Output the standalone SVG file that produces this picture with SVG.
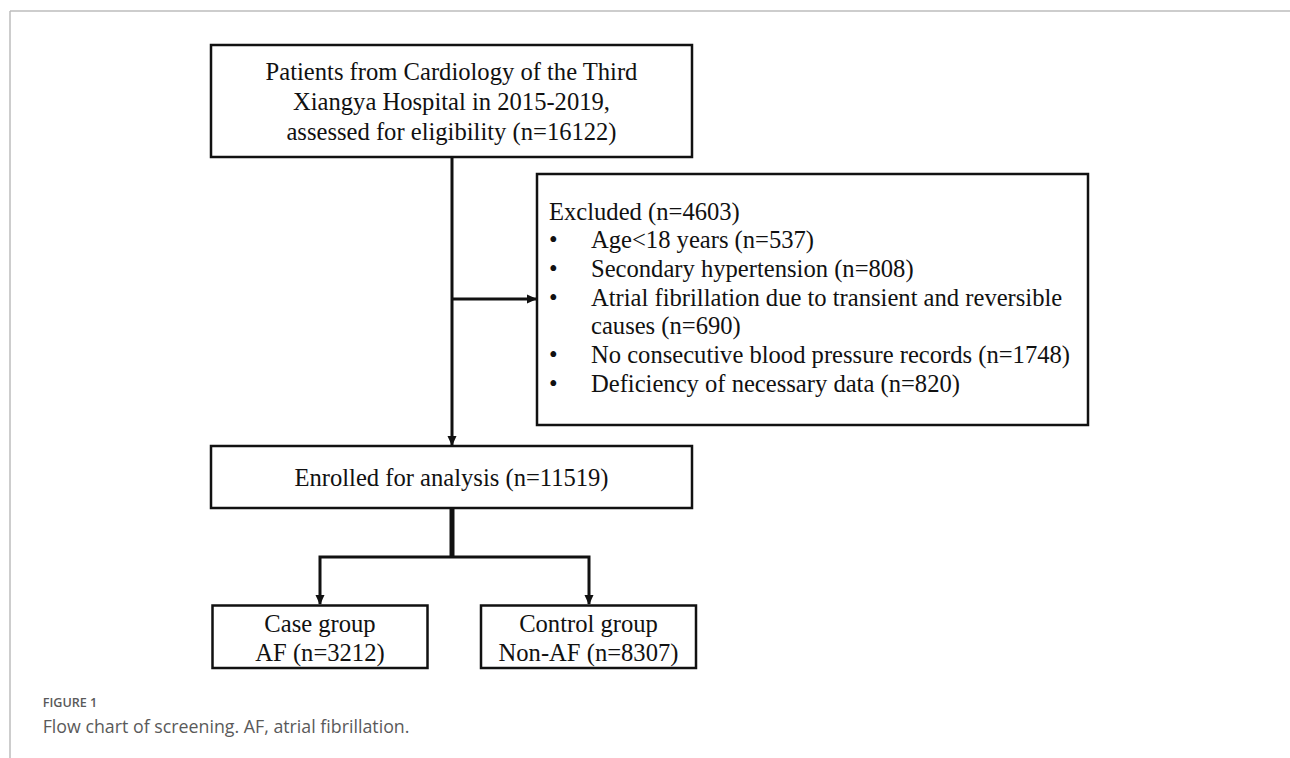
<svg xmlns="http://www.w3.org/2000/svg" width="1290" height="758" viewBox="0 0 1290 758">
  <style>
    .box { fill: #ffffff; stroke: #111111; stroke-width: 2.5; }
    .t { font-family: "Liberation Serif", "Times New Roman", serif; font-size: 24.6px; fill: #111111; }
    .c { text-anchor: middle; }
    .conn { fill: none; stroke: #111111; stroke-width: 3; }
    .thick { stroke-width: 5; }
    .frame { fill: none; stroke: #bdbdbd; stroke-width: 1.5; }
    .cap { font-family: "Open Sans", "Liberation Sans", sans-serif; fill: #5a5a5a; }
  </style>
  <defs>
    <marker id="arr" markerWidth="10" markerHeight="10" refX="9" refY="5" orient="auto" markerUnits="userSpaceOnUse">
      <path d="M0,0.5 L10,5 L0,9.5 Z" fill="#111111"/>
    </marker>
  </defs>
  <rect width="1290" height="758" fill="#ffffff"/>
  <g id="frame">
    <path class="frame" d="M10,11 H1290 M10,11 V758"/>
  </g>
  <g id="connectors">
    <path class="conn" d="M452,157 V445" marker-end="url(#arr)"/>
    <path class="conn" d="M452,299 H536" marker-end="url(#arr)"/>
    <path class="conn thick" d="M452,508 V557"/>
    <path class="conn" d="M452,557 H320 V604" marker-end="url(#arr)"/>
    <path class="conn" d="M452,557 H589 V604" marker-end="url(#arr)"/>
  </g>
  <g id="node-patients">
    <rect class="box" x="211" y="45" width="481" height="112"/>
    <text class="t c" x="451.5" y="80">Patients from Cardiology of the Third</text>
    <text class="t c" x="451.5" y="110">Xiangya Hospital in 2015-2019,</text>
    <text class="t c" x="451.5" y="140">assessed for eligibility (n=16122)</text>
  </g>
  <g id="node-excluded">
    <rect class="box" x="537" y="174" width="551" height="251"/>
    <text class="t" x="549" y="219.5">Excluded (n=4603)</text>
    <text class="t" x="549" y="248.2">•</text>
    <text class="t" x="591" y="248.2">Age&lt;18 years (n=537)</text>
    <text class="t" x="549" y="276.9">•</text>
    <text class="t" x="591" y="276.9">Secondary hypertension (n=808)</text>
    <text class="t" x="549" y="305.6">•</text>
    <text class="t" x="591" y="305.6">Atrial fibrillation due to transient and reversible</text>
    <text class="t" x="591" y="334.3">causes (n=690)</text>
    <text class="t" x="549" y="363">•</text>
    <text class="t" x="591" y="363">No consecutive blood pressure records (n=1748)</text>
    <text class="t" x="549" y="391.7">•</text>
    <text class="t" x="591" y="391.7">Deficiency of necessary data (n=820)</text>
  </g>
  <g id="node-enrolled">
    <rect class="box" x="211" y="446" width="481" height="62"/>
    <text class="t c" x="451.5" y="486">Enrolled for analysis (n=11519)</text>
  </g>
  <g id="node-case">
    <rect class="box" x="212.5" y="605.5" width="215" height="62.5"/>
    <text class="t c" x="320" y="632">Case group</text>
    <text class="t c" x="320" y="661">AF (n=3212)</text>
  </g>
  <g id="node-control">
    <rect class="box" x="481" y="605.5" width="215" height="62.5"/>
    <text class="t c" x="588.5" y="632">Control group</text>
    <text class="t c" x="588.5" y="661">Non-AF (n=8307)</text>
  </g>
  <g id="caption">
    <text class="cap" x="42.7" y="706.7" font-size="12.6" font-weight="600">FIGURE 1</text>
    <text class="cap" x="42.7" y="733.3" font-size="17.8">Flow chart of screening. AF, atrial fibrillation.</text>
  </g>
</svg>
